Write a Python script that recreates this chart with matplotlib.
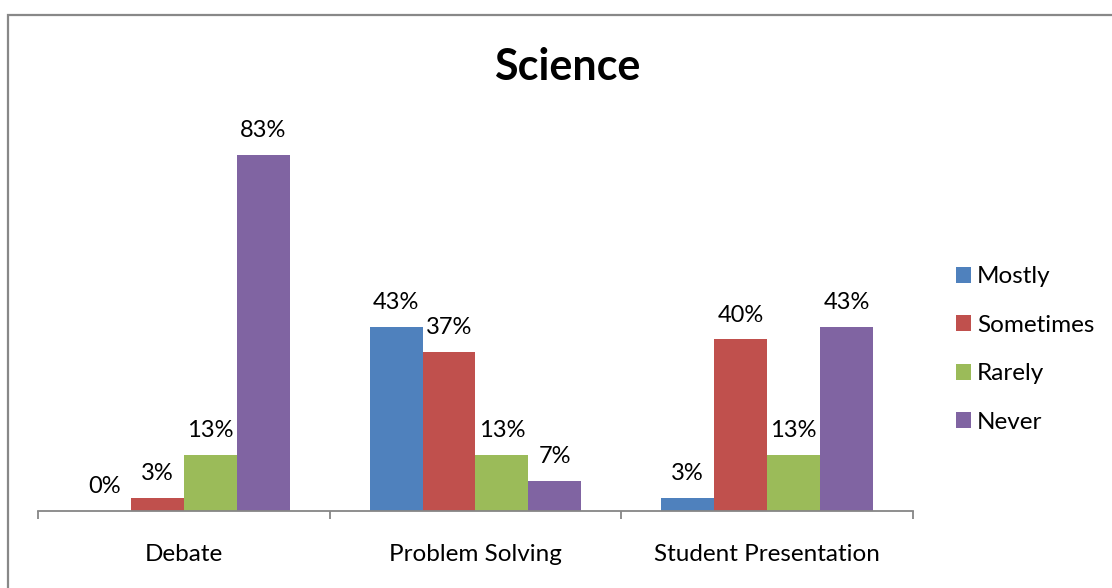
import numpy as np
import matplotlib.pyplot as plt
from matplotlib.patches import Rectangle

plt.rcParams['font.family'] = ['Lato', 'DejaVu Sans']

# data
categories = ['Debate', 'Problem Solving', 'Student Presentation']
series = ['Mostly', 'Sometimes', 'Rarely', 'Never']
mostly = [0, 43, 3]
sometimes = [3, 37, 40]
rarely = [13, 13, 13]
never = [83, 7, 43]
colors = ['#4F81BD', '#C0504D', '#9BBB59', '#8064A2']

values = [mostly, sometimes, rarely, never]

fig = plt.figure(figsize=(11.12, 5.88), dpi=100)

# outer chart border (cut off at right and bottom in the reference)
fig.patches.append(Rectangle((8 / 1112, -0.1), 1.2, 1 - 15 / 588 + 0.1,
                             transform=fig.transFigure, fill=False,
                             edgecolor='#888888', linewidth=1.6))

ax = fig.add_axes([38 / 1112, 77 / 588, 875 / 1112, 386 / 588])

x = np.arange(len(categories))
width = 0.1815
for i, (name, vals) in enumerate(zip(series, values)):
    offs = (i - 1.5) * width
    bars = ax.bar(x + offs, vals, width, color=colors[i], label=name)
    ax.bar_label(bars, labels=[f'{v}%' for v in vals], padding=10, fontsize=17)

ax.set_xlim(-0.5, 2.5)
ax.set_ylim(0, 90)
ax.set_yticks([])
for side in ['top', 'right', 'left']:
    ax.spines[side].set_visible(False)
ax.spines['bottom'].set_color('#868686')
ax.spines['bottom'].set_linewidth(1.3)

ax.set_xticks([-0.5, 0.5, 1.5, 2.5])
ax.set_xticklabels([])
ax.tick_params(axis='x', direction='out', length=6, width=1.3, color='#868686')
ax.set_xticks(x, minor=True)
ax.set_xticklabels(categories, minor=True, fontsize=17.5)
ax.tick_params(axis='x', which='minor', length=0, pad=24)

fig.text(567 / 1112, 1 - 67 / 588, 'Science', ha='center', va='center',
         fontsize=31, fontweight='bold')

ax.legend(loc='center left', bbox_to_anchor=(934 / 1112, 1 - 349.5 / 588),
          bbox_transform=fig.transFigure, frameon=False, fontsize=17.5,
          handlelength=0.62, handleheight=0.62, handletextpad=0.25,
          labelspacing=1.13)

fig.savefig('out.png', dpi=100)
